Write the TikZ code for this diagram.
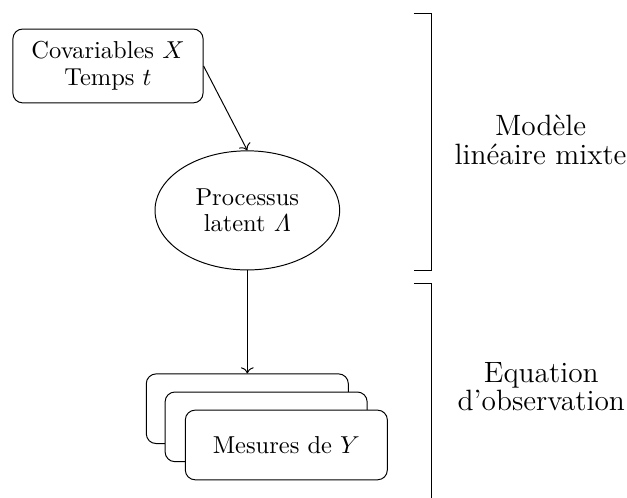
\documentclass[tikz,border=0pt]{standalone}
\usepackage{amsmath}
\usepackage{fontspec}
\usetikzlibrary{arrows.meta, positioning, shapes.geometric}

\begin{document}
\begin{tikzpicture}[
    % Styles globaux
    >=To,
    % Boite d'entree (covariables)
    entree/.style = {
        rectangle,
        draw,
        rounded corners,
        align=center,
        minimum width=2.73cm,
        minimum height=1.06cm,
        font=\fontsize{10}{10.8}\selectfont
    },
    % Processus latent (ellipse)
    latent/.style = {
        ellipse,
        draw,
        align=center,
        minimum width=2.65cm,
        minimum height=1.71cm,
        font=\fontsize{10}{10.8}\selectfont
    },
    % Boites empilees des mesures
    mesure/.style = {
        rectangle,
        draw,
        fill=white,
        rounded corners,
        align=center,
        minimum width=2.90cm,
        minimum height=1.00cm,
        font=\fontsize{10}{10.8}\selectfont
    },
    % Etiquettes des accolades
    groupe/.style = {
        align=center,
        font=\fontsize{12}{11.6}\selectfont
    },
    connection/.style = {draw, ->}
]
    \useasboundingbox (0,0) rectangle (9.0,-7.146);

    % --- NOEUDS ---
    \node [entree] (cov) at (1.550,-0.947) {Covariables $X$\\Temps $t$};
    \node [latent, below=0.674cm of cov.south, xshift=2.0cm] (proc) {Processus\\latent $\varLambda$};

    % Mesures : trois boites decalees
    \node [mesure, below=1.478cm of proc] (mes1) {};
    \node [mesure, xshift=0.27cm, yshift=-0.26cm] (mes2) at (mes1) {};
    \node [mesure, xshift=0.29cm, yshift=-0.26cm] (mes3) at (mes2) {Mesures de $Y$};

    % --- CONNEXIONS ---
    \draw [connection] (cov.east) -- (proc.north);
    \draw [connection] (proc) -- (mes1);

    % --- ACCOLADES ---
    \coordinate (a1) at (5.94,-0.187);
    \coordinate (b1) at (5.94,-3.889);
    \coordinate (a2) at (5.94,-4.075);
    \coordinate (b2) at (6.20,-7.146);
    \draw (a1) -- ++(0.26,0) |- (b1);
    \draw (a2) -| (b2);

    \node [groupe] (mlm) at (7.76,-2.01) {Modèle\\linéaire mixte};
    \node [groupe] (obs) at (7.77,-5.55) {Equation\\d'observation};

\end{tikzpicture}
\end{document}
